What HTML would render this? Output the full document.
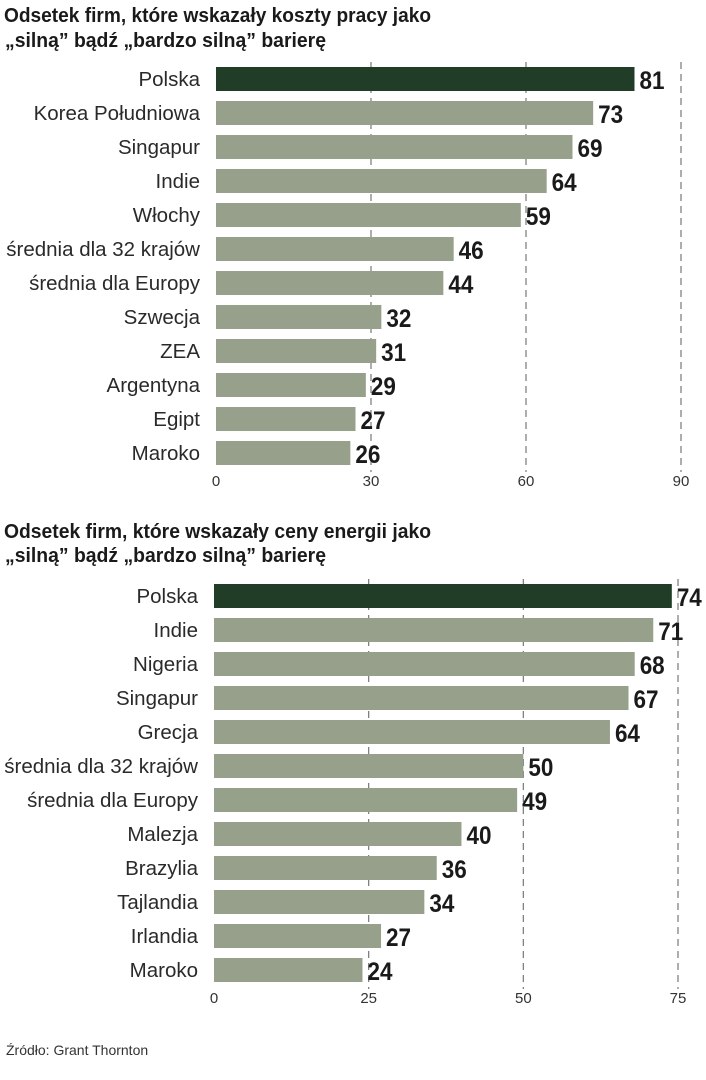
<!DOCTYPE html>
<html><head><meta charset="utf-8"><style>
body{margin:0;background:#fff;}
svg{display:block;}
.t{font-family:"Liberation Sans Narrow","Liberation Sans",sans-serif;font-weight:bold;font-size:20px;fill:#1a1a1a;}
.lab{font-family:"Liberation Sans",sans-serif;font-size:20.5px;fill:#2a2a2a;text-anchor:end;}
.val{font-family:"Liberation Sans Narrow","Liberation Sans",sans-serif;font-weight:bold;font-size:25px;fill:#1a1a1a;}
.tick{font-family:"Liberation Sans",sans-serif;font-size:15px;fill:#333;text-anchor:middle;}
.src{font-family:"Liberation Sans",sans-serif;font-size:14px;fill:#333;}
</style></head><body>
<svg id="s" width="706" height="1080">
<text class="t" x="4" y="22" textLength="427" lengthAdjust="spacingAndGlyphs">Odsetek firm, które wskazały koszty pracy jako</text>
<text class="t" x="5" y="47" textLength="321" lengthAdjust="spacingAndGlyphs">„silną” bądź „bardzo silną” barierę</text>
<text class="t" x="4" y="538" textLength="427" lengthAdjust="spacingAndGlyphs">Odsetek firm, które wskazały ceny energii jako</text>
<text class="t" x="5" y="562" textLength="321" lengthAdjust="spacingAndGlyphs">„silną” bądź „bardzo silną” barierę</text>
<text class="src" x="6" y="1055">Źródło: Grant Thornton</text>
</svg>
<script>
const cats1=["Polska","Korea Południowa","Singapur","Indie","Włochy","średnia dla 32 krajów","średnia dla Europy","Szwecja","ZEA","Argentyna","Egipt","Maroko"];
const vals1=[81,73,69,64,59,46,44,32,31,29,27,26];
const ticks1=[0,30,60,90];
const cats2=["Polska","Indie","Nigeria","Singapur","Grecja","średnia dla 32 krajów","średnia dla Europy","Malezja","Brazylia","Tajlandia","Irlandia","Maroko"];
const vals2=[74,71,68,67,64,50,49,40,36,34,27,24];
const ticks2=[0,25,50,75];
const NS="http://www.w3.org/2000/svg";
const svg=document.getElementById('s');
function mk(tag,attrs,parent){const e=document.createElementNS(NS,tag);for(const k in attrs)e.setAttribute(k,attrs[k]);(parent||svg).appendChild(e);return e;}
function chart(id,cats,vals,ticks,x0,x1,max,top,step,axisY){
  const g=mk('g',{});
  
  
  const X=v=>x0+(x1-x0)*v/max;
  ticks.forEach(t=>{
    if(t>0){const l=mk('line',{x1:X(t),x2:X(t),y1:top-17,y2:axisY-14,stroke:'#777','stroke-width':1.2,'stroke-dasharray':'7,5'},g);
      
      }
    const tx=mk('text',{x:X(t),y:axisY,class:'tick'},g);tx.textContent=t;
    
    
  });
  cats.forEach((c,i)=>{
    const cy=top+i*step;
    const r=mk('rect',{x:x0,y:cy-12,width:X(vals[i])-x0,height:24,fill:i===0?'#213d27':'#97a08a'},g);
    
    
    const l=mk('text',{x:x0-16,y:cy+7,class:'lab'},g);l.textContent=c;
    
    
    const s=String(vals[i]);
    const v=mk('text',{x:X(vals[i])+5,y:cy+10,class:'val',textLength:s.length*12.5,lengthAdjust:'spacingAndGlyphs'},g);v.textContent=s;
    
    
  });
}
chart('chart-labor-costs',cats1,vals1,ticks1,216,681,90,79,34,486);
chart('chart-energy-prices',cats2,vals2,ticks2,214,678,75,596,34,1003);
</script>
</body></html>
